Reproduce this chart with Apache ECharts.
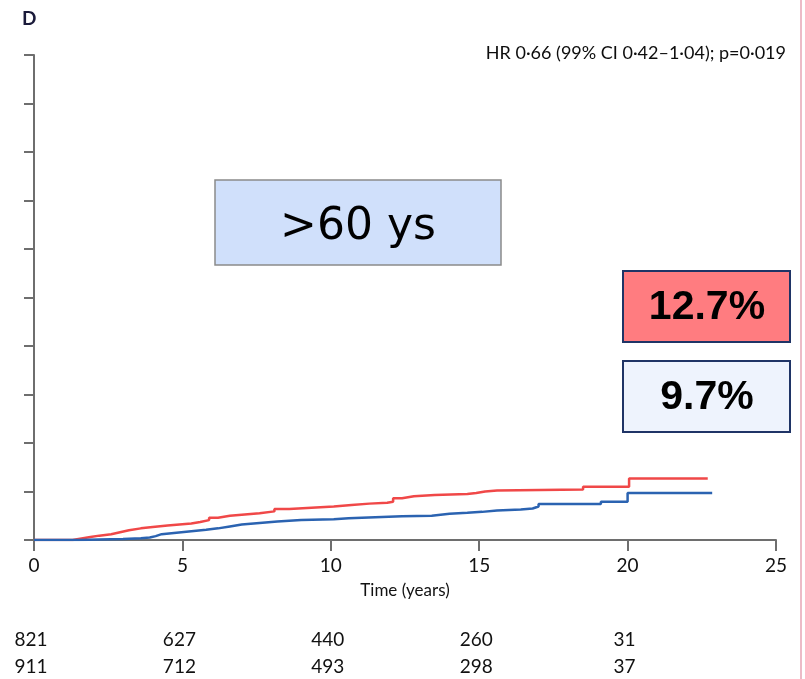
<!DOCTYPE html>
<html>
<head>
<meta charset="utf-8">
<script src="https://cdn.jsdelivr.net/npm/echarts@6/dist/echarts.min.js"></script>
<style>
  html, body { margin: 0; padding: 0; background: #fff; }
  #chart { width: 805px; height: 679px; }
</style>
</head>
<body>
<div id="chart"></div>
<script>
// Cumulative incidence (%) over time (years), step curves
const redCurve = [
  [0, 0], [1.1, 0], [1.3, 0.3], [1.6, 0.6], [1.9, 0.9], [2.2, 1.2], [2.6, 1.6],
  [2.9, 2.0], [3.2, 2.4], [3.6, 2.7], [4.0, 3.0], [4.5, 3.2], [4.9, 3.4],
  [5.3, 3.7], [5.6, 4.1], [5.9, 4.6], [6.2, 5.0], [6.6, 5.3], [7.2, 5.5],
  [7.6, 5.9], [8.1, 6.4], [8.6, 6.6], [9.2, 6.9], [10.1, 7.2], [10.7, 7.5],
  [11.3, 7.7], [11.9, 7.9], [12.1, 8.6], [12.4, 9.0], [12.8, 9.3], [13.5, 9.5],
  [14.6, 9.7], [14.9, 10.0], [15.2, 10.2], [15.6, 10.4], [18.5, 11.0],
  [20.05, 12.7], [22.7, 12.7]
];
const blueCurve = [
  [0, 0], [1.5, 0.1], [2.2, 0.2], [3.0, 0.35], [3.6, 0.5], [3.9, 0.8],
  [4.1, 1.2], [4.3, 1.5], [4.8, 1.8], [5.3, 2.1], [5.8, 2.4], [6.2, 2.8],
  [6.6, 3.2], [7.0, 3.5], [7.6, 3.8], [8.2, 4.1], [9.0, 4.3], [10.1, 4.5],
  [10.6, 4.7], [11.5, 4.9], [12.4, 5.0], [13.4, 5.4], [14.0, 5.6], [14.6, 5.8],
  [15.1, 6.1], [15.6, 6.3], [16.4, 6.5], [16.8, 6.9], [17.0, 7.4], [19.1, 7.9],
  [20.0, 9.7], [22.85, 9.7]
];

// Numbers at risk
const riskTimes = [0, 5, 10, 15, 20];
const riskRed = [821, 627, 440, 260, 31];
const riskBlue = [911, 712, 493, 298, 37];

const xTicks = [0, 5, 10, 15, 20, 25];
const hrText = 'HR 0·66 (99% CI 0·42–1·04); p=0·019';
const groupLabel = '>60 ys';
const redFinal = '12.7%';
const blueFinal = '9.7%';

const bodyFont = 'Lato, "Open Sans", sans-serif';
const axisGrey = '#6e6e6e';
const textDark = '#111111';

const chart = echarts.init(document.getElementById('chart'));

chart.setOption({
  animation: false,
  backgroundColor: '#ffffff',
  grid: { left: 34, right: 29, top: 55, bottom: 139 },
  xAxis: {
    type: 'value',
    min: xTicks[0],
    max: xTicks[xTicks.length - 1],
    interval: 5,
    name: 'Time (years)',
    nameLocation: 'middle',
    nameGap: 42,
    nameTextStyle: { fontFamily: bodyFont, fontSize: 17, color: textDark },
    axisLine: { lineStyle: { color: axisGrey, width: 2 } },
    axisTick: { length: 11, lineStyle: { color: axisGrey, width: 2 } },
    axisLabel: { margin: 16, fontFamily: bodyFont, fontSize: 19, color: textDark },
    splitLine: { show: false }
  },
  yAxis: {
    type: 'value',
    min: 0,
    max: 100,
    interval: 10,
    axisLine: { show: true, lineStyle: { color: axisGrey, width: 2 } },
    axisTick: { show: true, length: 10, lineStyle: { color: axisGrey, width: 2 } },
    axisLabel: { show: false },
    splitLine: { show: false }
  },
  series: [
    {
      type: 'line', step: 'end', data: redCurve, symbol: 'none',
      lineStyle: { color: '#f04848', width: 2.5 }, z: 3
    },
    {
      type: 'line', step: 'end', data: blueCurve, symbol: 'none',
      lineStyle: { color: '#2b63b1', width: 2.5 }, z: 4
    }
  ]
});

// Panel decorations, text boxes and the numbers-at-risk rows
const graphics = [
  {
    type: 'text', left: 22, top: 9,
    style: { text: 'D', font: 'bold 19px Lato, "Liberation Sans", sans-serif', fill: '#1a1a3a' }
  },
  {
    type: 'text', x: 786, y: 53,
    style: {
      text: hrText, font: '18px ' + bodyFont, fill: '#0d0d0d',
      align: 'right', verticalAlign: 'middle'
    }
  },
  {
    type: 'rect', shape: { x: 215, y: 180, width: 286, height: 85 },
    style: { fill: '#d0e0fb', stroke: '#8a8a8a', lineWidth: 1.5 }
  },
  {
    type: 'text', x: 358, y: 228,
    style: {
      text: groupLabel, font: '44px "DejaVu Sans", sans-serif', fill: '#000',
      align: 'center', verticalAlign: 'middle'
    }
  },
  {
    type: 'rect', shape: { x: 623, y: 271, width: 167, height: 71 },
    style: { fill: '#ff7c80', stroke: '#1f3466', lineWidth: 2 }
  },
  {
    type: 'text', x: 707, y: 308,
    style: {
      text: redFinal, font: 'bold 41px "Liberation Sans", Arial, sans-serif', fill: '#000',
      align: 'center', verticalAlign: 'middle'
    }
  },
  {
    type: 'rect', shape: { x: 623, y: 361, width: 167, height: 71 },
    style: { fill: '#eef3fd', stroke: '#1f3466', lineWidth: 2 }
  },
  {
    type: 'text', x: 707, y: 398,
    style: {
      text: blueFinal, font: 'bold 41px "Liberation Sans", Arial, sans-serif', fill: '#000',
      align: 'center', verticalAlign: 'middle'
    }
  },
  {
    type: 'line', shape: { x1: 801, y1: 0, x2: 801, y2: 679 },
    style: { stroke: '#e6a4b4', lineWidth: 1.5 }
  }
];

riskTimes.forEach(function (t, i) {
  const px = chart.convertToPixel({ xAxisIndex: 0 }, t) - 3;
  graphics.push({
    type: 'text', x: px, y: 640,
    style: {
      text: String(riskRed[i]), font: '19px ' + bodyFont, fill: textDark,
      align: 'center', verticalAlign: 'middle'
    }
  });
  graphics.push({
    type: 'text', x: px, y: 667,
    style: {
      text: String(riskBlue[i]), font: '19px ' + bodyFont, fill: textDark,
      align: 'center', verticalAlign: 'middle'
    }
  });
});

chart.setOption({ graphic: graphics });
</script>
</body>
</html>
